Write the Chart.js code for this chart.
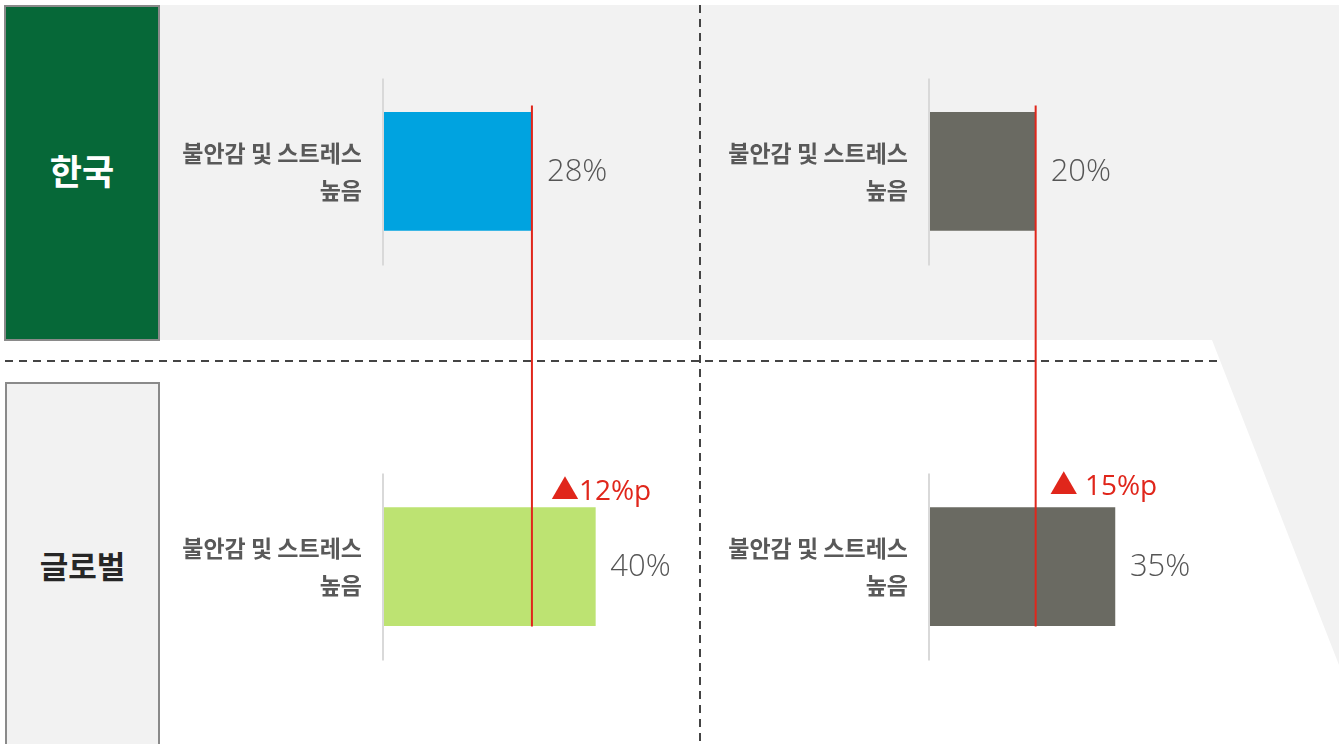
<!DOCTYPE html>
<html>
<head>
<meta charset="utf-8">
<script src="https://cdn.jsdelivr.net/npm/chart.js@4"></script>
<style>
  html, body { margin: 0; padding: 0; }
  body { width: 1339px; height: 744px; overflow: hidden; position: relative; background: #fff;
         font-family: "Noto Sans CJK KR", "Noto Sans", sans-serif; }
  #bg { position: absolute; left: 0; top: 0; }
  .rowbox { position: absolute; box-sizing: border-box; border: 2px solid #8a8a8a;
            display: flex; align-items: center; justify-content: center; font-weight: 700; font-size: 31px; }
  #kr { left: 4px; top: 5px; width: 156px; height: 336px; background: #066838; color: #fff; font-size: 35px; padding-bottom: 8px; }
  #gl { left: 5px; top: 382px; width: 155px; height: 380px; background: #f2f2f2; color: #262626; padding-bottom: 16px; }
  .col { position: absolute; top: -85px; width: 541px; height: 908px; }
</style>
</head>
<body>
<svg id="bg" width="1339" height="744">
  <polygon points="159,5 1339,5 1339,665 1212,340 159,340" fill="#f2f2f2"/>
  <line x1="5" y1="361" x2="1218" y2="361" stroke="#444" stroke-width="2" stroke-dasharray="8,6"/>
  <line x1="700" y1="5" x2="700" y2="744" stroke="#444" stroke-width="2" stroke-dasharray="8,6"/>
</svg>
<div class="rowbox" id="kr">한국</div>
<div class="rowbox" id="gl">글로벌</div>
<div class="col" style="left:160px"><canvas id="leftChart"></canvas></div>
<div class="col" style="left:706px"><canvas id="rightChart"></canvas></div>

<script>
// rows: 한국 (top), 글로벌 (bottom)
const rows = ['한국', '글로벌'];
const categoryLabel = ['불안감 및 스트레스', '높음'];
const leftValues = [28, 40];
const rightValues = [20, 35];
const leftColors = ['#00a3e0', '#bde372'];
const rightColors = ['#6a6a62', '#6a6a62'];
const deltaLabels = ['▲12%p', '▲ 15%p'];

// draws the little axis pieces, value labels, red reference line and gap label
const decorPlugin = {
  id: 'decor',
  afterDatasetsDraw(chart, args, opts) {
    const ctx = chart.ctx;
    const x = chart.scales.x;
    const meta = chart.getDatasetMeta(0);
    const values = chart.data.datasets[0].data;
    const x0 = x.getPixelForValue(0);

    ctx.save();
    // axis segments
    ctx.strokeStyle = '#d9d9d9';
    ctx.lineWidth = 2;
    meta.data.forEach(bar => {
      ctx.beginPath();
      ctx.moveTo(x0 - 1, bar.y - 93);
      ctx.lineTo(x0 - 1, bar.y + 94);
      ctx.stroke();
    });

    // value labels
    ctx.fillStyle = '#555555';
    ctx.font = '300 31px "Open Sans", sans-serif';
    ctx.textAlign = 'left';
    ctx.textBaseline = 'middle';
    meta.data.forEach((bar, i) => {
      ctx.fillText(values[i] + '%', bar.x + 15, bar.y + 1);
    });

    // red line at the Korea value, down through the global bar
    const refX = x.getPixelForValue(values[0]);
    const top = meta.data[0].y - 66;
    const bottom = meta.data[1].y + meta.data[1].height / 2 + 1;
    ctx.strokeStyle = '#e0261b';
    ctx.lineWidth = 2;
    ctx.beginPath();
    ctx.moveTo(refX, top);
    ctx.lineTo(refX, bottom);
    ctx.stroke();

    // gap label
    ctx.fillStyle = '#e0261b';
    ctx.font = '400 28px "Open Sans", "Noto Sans CJK KR", sans-serif';
    ctx.textBaseline = 'alphabetic';
    const barTop = meta.data[1].y - meta.data[1].height / 2;
    ctx.fillText(opts.delta, refX + opts.dx, barTop - opts.dy);
    ctx.restore();
  }
};

function makeColumn(id, values, colors, delta, dx, dy) {
  const ctx = document.getElementById(id).getContext('2d');
  return new Chart(ctx, {
    type: 'bar',
    data: {
      labels: rows.map(() => categoryLabel),
      datasets: [{
        data: values,
        backgroundColor: colors,
        borderWidth: 0,
        barThickness: 118
      }]
    },
    options: {
      indexAxis: 'y',
      responsive: true,
      maintainAspectRatio: false,
      animation: false,
      layout: { padding: 0 },
      plugins: {
        legend: { display: false },
        tooltip: { enabled: false },
        decor: { delta: delta, dx: dx, dy: dy }
      },
      scales: {
        x: { display: false, min: 0, max: 60 },
        y: {
          grid: { display: false, drawTicks: false },
          border: { display: false },
          afterFit(scale) { scale.width = 224; },
          ticks: {
            padding: 22,
            color: '#595959',
            font: { family: '"Noto Sans CJK KR", sans-serif', size: 23, weight: 'bold', lineHeight: 1.6 }
          }
        }
      }
    },
    plugins: [decorPlugin]
  });
}

makeColumn('leftChart', leftValues, leftColors, deltaLabels[0], 19, 8);
makeColumn('rightChart', rightValues, rightColors, deltaLabels[1], 14, 13);
</script>
</body>
</html>
